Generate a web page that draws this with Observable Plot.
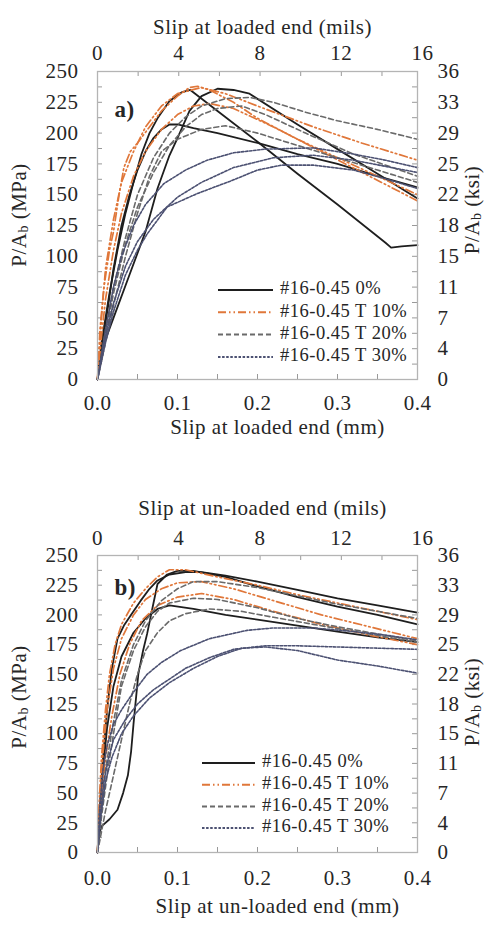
<!DOCTYPE html>
<html><head><meta charset="utf-8">
<script src="https://cdn.jsdelivr.net/npm/d3@7"></script>
<script src="https://cdn.jsdelivr.net/npm/@observablehq/plot@0.6"></script>
<style>
body{margin:0;background:#fff;}
#chart{width:489px;}
#chart svg{display:block;}
#chart svg, #chart svg text{font-family:'Liberation Serif','Times New Roman',serif !important;}
</style>
</head><body><div id="chart"></div>
<script>
// ---------- series definitions ----------
const seriesNames  = ["#16-0.45 0%", "#16-0.45 T 10%", "#16-0.45 T 20%", "#16-0.45 T 30%"];
const seriesColors = ["#1e1e1e", "#e0773a", "#6a6a6a", "#4c5172"];
const seriesDashes = [null, "8,3,1.5,3,1.5,3", "5,3", "2.5,1.6"];
const seriesWidths = [1.8, 1.7, 1.6, 1.6];

// ---------- axis ticks / labels ----------
const mpaTicks   = [0, 25, 50, 75, 100, 125, 150, 175, 200, 225, 250];
const ksiLabels  = [0, 4, 7, 11, 15, 18, 22, 25, 29, 33, 36];
const mpaMinor   = [0,12.5,25,37.5,50,62.5,75,87.5,100,112.5,125,137.5,150,162.5,175,187.5,200,212.5,225,237.5,250];
const mmTicks    = [0, 0.1, 0.2, 0.3, 0.4];
const mmMinor    = [0.05, 0.1, 0.15, 0.2, 0.25, 0.3, 0.35];
const milsTicks  = [0, 4, 8, 12, 16];
const milsMinor  = [2, 4, 6, 8, 10, 12, 14];
const mmPerMil   = 0.0254;

// ---------- panel a: slip at loaded end (mm, MPa) ----------
const loaded_0_1 = [[0,0],[0.005,30],[0.015,70],[0.025,105],[0.035,135],[0.045,160],[0.055,183],[0.065,200],[0.075,212],[0.09,226],[0.105,233],[0.116,235],[0.15,218],[0.2,193],[0.25,167],[0.3,142],[0.36,111],[0.367,107],[0.38,108],[0.4,109]];
const loaded_0_2 = [[0,0],[0.005,25],[0.01,45],[0.02,90],[0.03,125],[0.04,150],[0.05,170],[0.06,185],[0.07,196],[0.08,203],[0.09,207],[0.1,207],[0.12,204],[0.15,200],[0.2,192],[0.25,183],[0.3,175],[0.35,165],[0.4,156]];
const loaded_0_3 = [[0,0],[0.004,22],[0.02,50],[0.04,85],[0.06,120],[0.075,155],[0.09,182],[0.1,196],[0.115,218],[0.13,230],[0.15,236],[0.17,235],[0.19,232],[0.25,207],[0.3,187],[0.35,167],[0.4,147]];
const loaded_10_1 = [[0,0],[0.003,40],[0.008,75],[0.015,105],[0.02,120],[0.027,150],[0.033,172],[0.041,185],[0.05,192],[0.065,205],[0.08,218],[0.1,230],[0.115,237],[0.125,238],[0.14,235],[0.17,225],[0.2,212],[0.25,195],[0.3,180],[0.35,165],[0.4,150]];
const loaded_10_2 = [[0,0],[0.005,50],[0.01,90],[0.02,130],[0.03,160],[0.045,185],[0.06,205],[0.08,222],[0.1,232],[0.13,237],[0.16,232],[0.2,222],[0.27,205],[0.33,192],[0.4,178]];
const loaded_10_3 = [[0,0],[0.005,35],[0.01,65],[0.02,105],[0.03,135],[0.045,165],[0.06,185],[0.08,203],[0.1,215],[0.12,222],[0.14,224],[0.17,220],[0.22,205],[0.28,185],[0.34,165],[0.4,145]];
const loaded_20_1 = [[0,0],[0.01,40],[0.02,75],[0.035,115],[0.05,150],[0.07,180],[0.09,200],[0.11,213],[0.13,222],[0.16,228],[0.19,229],[0.22,225],[0.26,217],[0.3,210],[0.35,203],[0.4,195]];
const loaded_20_2 = [[0,0],[0.01,35],[0.02,70],[0.035,110],[0.05,140],[0.07,168],[0.09,190],[0.11,205],[0.13,215],[0.15,220],[0.18,222],[0.21,215],[0.26,200],[0.32,183],[0.4,165]];
const loaded_20_3 = [[0,0],[0.01,30],[0.02,60],[0.035,100],[0.05,135],[0.065,165],[0.08,185],[0.1,195],[0.13,203],[0.16,206],[0.2,200],[0.25,190],[0.3,180],[0.35,170],[0.4,160]];
const loaded_30_1 = [[0,0],[0.01,40],[0.02,75],[0.03,100],[0.045,125],[0.06,142],[0.083,159],[0.11,170],[0.137,178],[0.17,184],[0.21,187],[0.27,188],[0.32,183],[0.36,178],[0.4,172]];
const loaded_30_2 = [[0,0],[0.01,30],[0.02,55],[0.035,85],[0.05,105],[0.062,118],[0.087,140],[0.125,151],[0.166,161],[0.2,170],[0.23,174],[0.27,174],[0.32,170],[0.36,163],[0.4,155]];
const loaded_30_3 = [[0,0],[0.01,35],[0.02,62],[0.035,92],[0.05,112],[0.07,130],[0.1,148],[0.13,160],[0.17,172],[0.22,180],[0.27,182],[0.32,178],[0.36,173],[0.4,168]];

// ---------- panel b: slip at un-loaded end (mm, MPa) ----------
const unloaded_0_1 = [[0,0],[0.003,40],[0.007,80],[0.012,120],[0.018,155],[0.025,180],[0.033,191],[0.045,203],[0.054,212],[0.065,222],[0.075,229],[0.09,234],[0.11,236],[0.13,236],[0.16,233],[0.2,228],[0.25,221],[0.3,214],[0.35,208],[0.4,202]];
const unloaded_0_2 = [[0,0],[0.003,35],[0.007,70],[0.012,105],[0.02,140],[0.03,165],[0.045,185],[0.06,197],[0.075,205],[0.09,208],[0.12,205],[0.16,200],[0.2,196],[0.25,191],[0.3,186],[0.35,181],[0.4,177]];
const unloaded_0_3 = [[0,0],[0.002,15],[0.005,22],[0.015,28],[0.025,36],[0.032,50],[0.038,65],[0.042,85],[0.045,108],[0.051,150],[0.057,170],[0.062,184],[0.07,210],[0.075,226],[0.087,234],[0.1,237],[0.12,237],[0.16,232],[0.2,224],[0.25,215],[0.3,207],[0.35,200],[0.4,192]];
const unloaded_10_1 = [[0,0],[0.002,40],[0.005,80],[0.01,120],[0.015,150],[0.022,175],[0.03,192],[0.045,210],[0.06,222],[0.075,232],[0.09,238],[0.11,238],[0.15,232],[0.2,225],[0.25,217],[0.3,210],[0.35,203],[0.4,196]];
const unloaded_10_2 = [[0,0],[0.003,45],[0.007,85],[0.012,120],[0.02,155],[0.03,180],[0.045,200],[0.06,213],[0.08,222],[0.1,227],[0.13,228],[0.17,222],[0.22,212],[0.28,200],[0.34,190],[0.4,180]];
const unloaded_10_3 = [[0,0],[0.004,40],[0.01,80],[0.018,115],[0.028,150],[0.04,175],[0.055,195],[0.075,208],[0.1,215],[0.13,218],[0.17,213],[0.22,203],[0.28,192],[0.34,183],[0.4,175]];
const unloaded_20_1 = [[0,0],[0.005,35],[0.01,70],[0.02,110],[0.03,145],[0.045,175],[0.06,195],[0.08,212],[0.1,222],[0.12,228],[0.15,228],[0.2,223],[0.25,216],[0.3,209],[0.35,203],[0.4,197]];
const unloaded_20_2 = [[0,0],[0.005,30],[0.012,65],[0.02,100],[0.03,140],[0.045,170],[0.06,190],[0.075,203],[0.09,210],[0.12,214],[0.15,213],[0.2,206],[0.25,197],[0.3,190],[0.35,184],[0.4,178]];
const unloaded_20_3 = [[0,0],[0.01,35],[0.02,65],[0.03,95],[0.04,125],[0.05,150],[0.06,170],[0.075,185],[0.09,195],[0.11,201],[0.14,205],[0.18,203],[0.22,198],[0.27,192],[0.33,185],[0.4,177]];
const unloaded_30_1 = [[0,0],[0.003,40],[0.007,70],[0.012,90],[0.02,108],[0.03,120],[0.045,135],[0.062,150],[0.08,160],[0.104,170],[0.14,180],[0.187,187],[0.22,189],[0.27,189],[0.32,186],[0.36,183],[0.4,179]];
const unloaded_30_2 = [[0,0],[0.004,35],[0.008,60],[0.014,80],[0.02,95],[0.035,112],[0.05,125],[0.07,137],[0.09,146],[0.11,155],[0.14,164],[0.17,171],[0.21,174],[0.25,174],[0.3,173],[0.35,172],[0.4,171]];
const unloaded_30_3 = [[0,0],[0.004,30],[0.01,60],[0.018,80],[0.03,100],[0.045,115],[0.065,130],[0.09,143],[0.12,155],[0.15,165],[0.18,172],[0.21,173],[0.25,170],[0.3,162],[0.35,157],[0.4,151]];

const panelA = [[loaded_0_1, loaded_0_2, loaded_0_3],[loaded_10_1, loaded_10_2, loaded_10_3],[loaded_20_1, loaded_20_2, loaded_20_3],[loaded_30_1, loaded_30_2, loaded_30_3]];
const panelB = [[unloaded_0_1, unloaded_0_2, unloaded_0_3],[unloaded_10_1, unloaded_10_2, unloaded_10_3],[unloaded_20_1, unloaded_20_2, unloaded_20_3],[unloaded_30_1, unloaded_30_2, unloaded_30_3]];

const FONT = "'Liberation Serif', 'Times New Roman', serif";

function makePanel(cfg) {
  const W = 489, mL = 97, mR = 72;
  const plotW = W - mL - mR;
  const plotH = cfg.height - cfg.marginTop - cfg.marginBottom;
  const lineMarks = cfg.series.map((specs, si) => {
    const rows = [];
    specs.forEach((pts, k) => pts.forEach(([x, y]) => rows.push({x, y, spec: k})));
    return Plot.line(rows, {x: "x", y: "y", z: "spec", stroke: seriesColors[si],
      strokeWidth: seriesWidths[si], strokeDasharray: seriesDashes[si] || undefined,
      strokeLinejoin: "round", curve: "linear"});
  });
  const svg = Plot.plot({
    width: W, height: cfg.height,
    marginLeft: mL, marginRight: mR, marginTop: cfg.marginTop, marginBottom: cfg.marginBottom,
    style: `font-family: ${FONT}; font-size: 21px; color: #262626; background: #fff; letter-spacing: 0.5px;`,
    x: {domain: [0, 0.4], label: null},
    y: {domain: [0, 250], label: null},
    marks: [
      Plot.tickX(mmMinor, {x: d => d, insetTop: plotH - 5, stroke: "#999", strokeWidth: 1}),
      Plot.tickX(milsMinor, {x: d => d * mmPerMil, insetBottom: plotH - 5, stroke: "#999", strokeWidth: 1}),
      Plot.tickY(mpaMinor, {y: d => d, insetRight: plotW - 5, stroke: "#999", strokeWidth: 1}),
      Plot.tickY(mpaMinor, {y: d => d, insetLeft: plotW - 5, stroke: "#999", strokeWidth: 1}),
      ...lineMarks,
      Plot.frame({stroke: "#b4b4b4", strokeWidth: 1.3}),
      Plot.axisX(mmTicks, {anchor: "bottom", tickSize: 0, tickPadding: cfg.xPad, tickFormat: d => d.toFixed(1), label: null}),
      Plot.axisY(mpaTicks, {anchor: "left", tickSize: 0, tickPadding: 19, label: null}),
      Plot.axisY(mpaTicks, {anchor: "right", tickSize: 0, tickPadding: 20, label: null,
        tickFormat: d => String(ksiLabels[mpaTicks.indexOf(d)])}),
      Plot.text(milsTicks, {x: d => d * mmPerMil, text: d => String(d), frameAnchor: "top", dy: cfg.milsDy}),
      Plot.text([cfg.topTitle], {frameAnchor: "top", dy: cfg.topTitleDy, dx: 5}),
      Plot.text([cfg.bottomTitle], {frameAnchor: "bottom", dy: cfg.bottomTitleDy, dx: 20}),
      Plot.text([cfg.tag], {frameAnchor: "top-left", dx: 17, dy: cfg.tagDy, fontWeight: "bold", fontSize: 23, textAnchor: "start"})
    ]
  });
  const s = d3.select(svg);
  function yTitle(x, cy, unit) {
    const t = s.append("text")
      .attr("transform", `translate(${x},${cy}) rotate(-90)`)
      .attr("text-anchor", "middle").attr("dominant-baseline", "middle")
      .attr("fill", "#262626").style("font-size", "21px");
    t.append("tspan").text("P/A");
    t.append("tspan").attr("dy", "4").style("font-size", "14px").text("b");
    t.append("tspan").attr("dy", "-4").text(` (${unit})`);
  }
  yTitle(21, cfg.leftTitleY, "MPa");
  yTitle(474, cfg.rightTitleY, "ksi");
  const g = s.append("g").style("font-size", "18.5px").attr("fill", "#262626").attr("text-anchor", "start");
  seriesNames.forEach((name, i) => {
    const y = cfg.legendY + i * cfg.legendStep;
    g.append("line").attr("x1", cfg.legendX).attr("x2", cfg.legendX + cfg.legendLen)
      .attr("y1", y).attr("y2", y).attr("stroke", seriesColors[i])
      .attr("stroke-width", seriesWidths[i] + 0.4)
      .attr("stroke-dasharray", seriesDashes[i]);
    g.append("text").attr("x", cfg.legendX + cfg.legendLen + 7).attr("y", y)
      .attr("text-anchor", "start").attr("dominant-baseline", "middle").text(name);
  });
  return svg;
}

const chart = document.getElementById("chart");
chart.appendChild(makePanel({
  series: panelA, height: 460, marginTop: 71, marginBottom: 81, xPad: 16,
  topTitle: "Slip at loaded end (mils)", bottomTitle: "Slip at loaded end (mm)",
  milsDy: -26, topTitleDy: -52, bottomTitleDy: 54, tag: "a)", tagDy: 29,
  leftTitleY: 215, rightTitleY: 210,
  legendX: 218, legendLen: 55, legendY: 290, legendStep: 22.3
}));
chart.appendChild(makePanel({
  series: panelB, height: 466, marginTop: 95, marginBottom: 74, xPad: 18,
  topTitle: "Slip at un-loaded end (mils)", bottomTitle: "Slip at un-loaded end (mm)",
  milsDy: -25, topTitleDy: -55, bottomTitleDy: 60, tag: "b)", tagDy: 23,
  leftTitleY: 237, rightTitleY: 242,
  legendX: 202, legendLen: 53, legendY: 303, legendStep: 21.7
}));
</script>
</body></html>
